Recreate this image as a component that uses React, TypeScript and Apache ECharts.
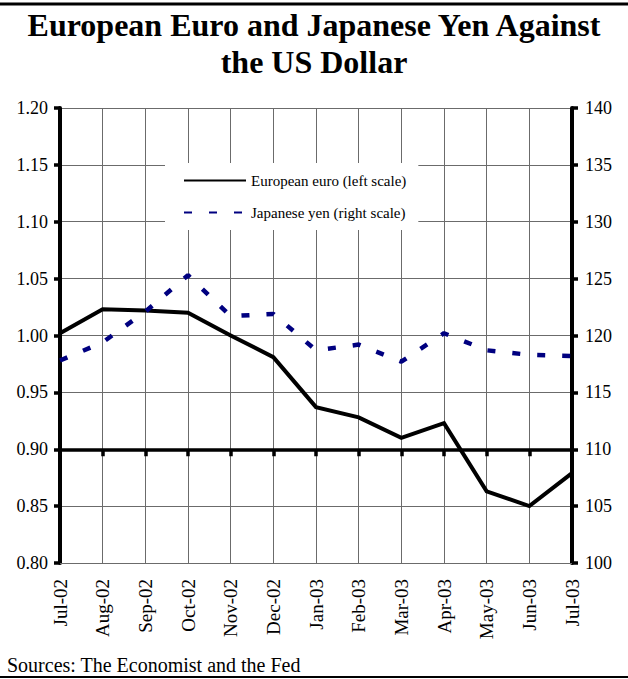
import React, { useEffect, useRef } from "react";
import * as echarts from "echarts";

const categories = ["Jul-02", "Aug-02", "Sep-02", "Oct-02", "Nov-02", "Dec-02", "Jan-03", "Feb-03", "Mar-03", "Apr-03", "May-03", "Jun-03", "Jul-03"];
const euro = [1.002, 1.023, 1.022, 1.02, 1.0, 0.981, 0.937, 0.928, 0.91, 0.923, 0.863, 0.85, 0.879];
const yen = [117.8, 119.4, 122.1, 125.3, 121.7, 121.9, 118.7, 119.2, 117.7, 120.2, 118.7, 118.3, 118.2];
const leftTicks = { min: 0.8, max: 1.2, interval: 0.05 };
const rightTicks = { min: 100, max: 140, interval: 5 };
const titleText = "European Euro and Japanese Yen Against\nthe US Dollar";
const sourceText = "Sources: The Economist and the Fed";
const euroName = "European euro (left scale)";
const yenName = "Japanese yen (right scale)";

const FONT = "'Liberation Serif', 'Times New Roman', serif";

export default function App() {
  const ref = useRef<HTMLDivElement>(null);
  useEffect(() => {
    if (!ref.current) return;
    const chart = echarts.init(ref.current, null, { renderer: "svg" });
    const W = 628, H = 679;
    const gridTop = 108, gridBottom = 116;
    const gridH = H - gridTop - gridBottom;
    const crossOffset = -gridH * (0.9 - leftTicks.min) / (leftTicks.max - leftTicks.min);
    const grid = "#6b6b6b";
    chart.setOption({
      animation: false,
      backgroundColor: "#fff",
      textStyle: { fontFamily: FONT },
      title: {
        text: titleText,
        left: "center",
        top: 1,
        textStyle: { fontFamily: FONT, fontSize: 32, fontWeight: "bold", color: "#000", lineHeight: 37 },
      },
      legend: {
        orient: "vertical",
        left: 165,
        top: 163,
        padding: [10, 12, 10, 18],
        backgroundColor: "#fff",
        itemWidth: 62,
        itemHeight: 14,
        itemGap: 17,
        itemStyle: { opacity: 0 },
        data: [euroName, yenName],
        textStyle: { fontFamily: FONT, fontSize: 15, color: "#000" },
      },
      grid: { left: 60, right: W - 572, top: gridTop, bottom: gridBottom, containLabel: false },
      xAxis: [
        {
          type: "category",
          data: categories,
          boundaryGap: false,
          axisLine: { show: true, lineStyle: { color: grid, width: 1 } },
          axisTick: { show: false },
          axisLabel: { interval: 0, rotate: 90, margin: 16, fontFamily: FONT, fontSize: 19, color: "#000" },
          splitLine: { show: true, interval: 0, lineStyle: { color: grid, width: 1 } },
        },
        {
          type: "category",
          data: categories,
          boundaryGap: false,
          position: "bottom",
          offset: crossOffset,
          axisLine: { show: true, lineStyle: { color: "#000", width: 3.5 } },
          axisTick: { show: true, interval: 0, inside: false, length: 7, lineStyle: { color: "#000", width: 3.5 } },
          axisLabel: { show: false, interval: 0 },
          splitLine: { show: false },
        },
      ],
      yAxis: [
        {
          type: "value",
          min: leftTicks.min,
          max: leftTicks.max,
          interval: leftTicks.interval,
          position: "left",
          axisLine: { show: true, lineStyle: { color: "#000", width: 4 } },
          axisTick: { show: true, length: 6, lineStyle: { color: "#000", width: 3.5 } },
          axisLabel: { fontFamily: FONT, fontSize: 18, color: "#000", margin: 12, formatter: (v: number) => v.toFixed(2) },
          splitLine: { show: true, lineStyle: { color: grid, width: 1 } },
        },
        {
          type: "value",
          min: rightTicks.min,
          max: rightTicks.max,
          interval: rightTicks.interval,
          position: "right",
          axisLine: { show: true, lineStyle: { color: "#000", width: 4 } },
          axisTick: { show: true, length: 6, lineStyle: { color: "#000", width: 3.5 } },
          axisLabel: { fontFamily: FONT, fontSize: 18, color: "#000", margin: 13 },
          splitLine: { show: false },
        },
      ],
      series: [
        {
          name: euroName,
          type: "line",
          xAxisIndex: 0,
          yAxisIndex: 0,
          data: euro,
          symbol: "none",
          lineStyle: { color: "#000", width: 4, join: "miter" },
          itemStyle: { color: "#000" },
          z: 3,
        },
        {
          name: yenName,
          type: "line",
          xAxisIndex: 0,
          yAxisIndex: 1,
          data: yen,
          symbol: "none",
          lineStyle: { color: "#000080", width: 4.5, type: [8, 17], cap: "butt" },
          itemStyle: { color: "#000080" },
          z: 4,
        },
      ],
      graphic: [
        { type: "line", shape: { x1: 0, y1: 4, x2: W, y2: 4 }, style: { stroke: "#000", lineWidth: 3 } },
        { type: "line", shape: { x1: 0, y1: 677, x2: W, y2: 677 }, style: { stroke: "#000", lineWidth: 2 } },
        {
          type: "text",
          left: 7,
          top: 655,
          style: { text: sourceText, font: `20px ${FONT}`, fill: "#000" },
        },
      ],
    });
    return () => chart.dispose();
  }, []);
  return <div ref={ref} style={{ position: "fixed", left: 0, top: 0, width: 628, height: 679 }} />;
}
